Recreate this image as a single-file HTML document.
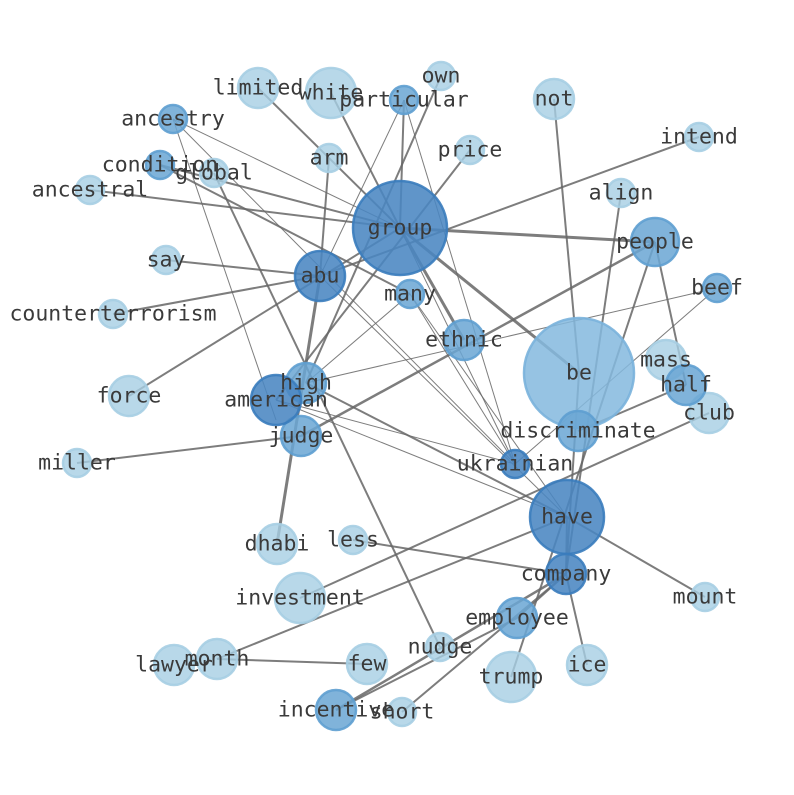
<!DOCTYPE html>
<html><head><meta charset="utf-8"><style>
html,body{margin:0;padding:0;background:#fff;}
svg text{font-family:"DejaVu Sans Mono","Liberation Mono",monospace;font-size:21.5px;fill:#3a3a3a;text-anchor:middle;dominant-baseline:central;}
</style></head><body>
<svg width="794" height="790" viewBox="0 0 794 790" xmlns="http://www.w3.org/2000/svg">
<g stroke="#666" stroke-opacity="0.85" fill="none">
<g stroke-width="2">
<line x1="258" y1="88" x2="400" y2="228"/>
<line x1="331" y1="93" x2="400" y2="228"/>
<line x1="404" y1="100" x2="400" y2="228"/>
<line x1="441" y1="76" x2="306" y2="383"/>
<line x1="329" y1="158" x2="320" y2="276"/>
<line x1="470" y1="150" x2="276" y2="400"/>
<line x1="699" y1="137" x2="320" y2="276"/>
<line x1="400" y1="228" x2="655" y2="242" stroke-width="3"/>
<line x1="400" y1="228" x2="579" y2="373" stroke-width="3"/>
<line x1="400" y1="228" x2="464" y2="340" stroke-width="3"/>
<line x1="160" y1="165" x2="400" y2="228"/>
<line x1="160" y1="165" x2="410" y2="294"/>
<line x1="214" y1="173" x2="440" y2="647"/>
<line x1="90" y1="190" x2="400" y2="228"/>
<line x1="166" y1="260" x2="320" y2="276"/>
<line x1="113" y1="314" x2="320" y2="276"/>
<line x1="129" y1="396" x2="400" y2="228"/>
<line x1="320" y1="276" x2="277" y2="544" stroke-width="3"/>
<line x1="655" y1="242" x2="301" y2="436" stroke-width="2.5"/>
<line x1="655" y1="242" x2="511" y2="677"/>
<line x1="655" y1="242" x2="686" y2="385"/>
<line x1="554" y1="99" x2="579" y2="373"/>
<line x1="621" y1="193" x2="566" y2="574"/>
<line x1="686" y1="385" x2="578" y2="431"/>
<line x1="709" y1="413" x2="300" y2="598"/>
<line x1="306" y1="383" x2="567" y2="517"/>
<line x1="301" y1="436" x2="77" y2="463"/>
<line x1="567" y1="517" x2="566" y2="574"/>
<line x1="567" y1="517" x2="217" y2="659"/>
<line x1="567" y1="517" x2="705" y2="597"/>
<line x1="353" y1="540" x2="566" y2="574"/>
<line x1="566" y1="574" x2="336" y2="710" stroke-width="2.5"/>
<line x1="566" y1="574" x2="517" y2="618"/>
<line x1="566" y1="574" x2="402" y2="712"/>
<line x1="566" y1="574" x2="587" y2="665"/>
<line x1="517" y1="618" x2="336" y2="710"/>
<line x1="217" y1="659" x2="367" y2="664"/>
<line x1="579" y1="373" x2="566" y2="574"/>
</g>
<g stroke-width="1">
<line x1="404" y1="100" x2="320" y2="276"/>
<line x1="404" y1="100" x2="515" y2="464"/>
<line x1="400" y1="228" x2="515" y2="464"/>
<line x1="173" y1="119" x2="400" y2="228"/>
<line x1="173" y1="119" x2="276" y2="420"/>
<line x1="173" y1="119" x2="515" y2="464"/>
<line x1="717" y1="288" x2="306" y2="383"/>
<line x1="717" y1="288" x2="515" y2="464"/>
<line x1="276" y1="400" x2="515" y2="464"/>
<line x1="276" y1="400" x2="567" y2="517"/>
<line x1="410" y1="294" x2="515" y2="464"/>
<line x1="410" y1="294" x2="567" y2="517"/>
<line x1="410" y1="294" x2="306" y2="383"/>
<line x1="320" y1="276" x2="567" y2="517"/>
</g>
</g>
<g stroke-width="2.5" stroke-opacity="0.9">
<g fill="#a6cee3" fill-opacity="0.8" stroke="#a6cee3">
<circle cx="258" cy="88" r="20"/><circle cx="331" cy="93" r="25"/><circle cx="441" cy="76" r="14"/>
<circle cx="554" cy="99" r="20"/><circle cx="699" cy="137" r="14"/><circle cx="470" cy="150" r="14"/>
<circle cx="329" cy="158" r="14"/><circle cx="214" cy="173" r="14"/><circle cx="90" cy="190" r="14"/>
<circle cx="621" cy="193" r="14"/><circle cx="166" cy="260" r="14"/><circle cx="113" cy="314" r="14"/>
<circle cx="129" cy="396" r="20"/><circle cx="666" cy="360" r="20"/><circle cx="709" cy="413" r="20"/>
<circle cx="77" cy="463" r="14"/><circle cx="277" cy="544" r="20"/><circle cx="353" cy="540" r="14"/>
<circle cx="300" cy="598" r="25"/><circle cx="705" cy="597" r="14"/><circle cx="174" cy="665" r="20"/>
<circle cx="217" cy="659" r="20"/><circle cx="367" cy="664" r="20"/><circle cx="440" cy="647" r="14"/>
<circle cx="511" cy="677" r="25"/><circle cx="587" cy="665" r="20"/><circle cx="402" cy="712" r="14"/>
</g>
<circle cx="579" cy="373" r="55" fill="#84b9de" fill-opacity="0.85" stroke="#7ab3db"/>
<g fill="#6aa6d4" fill-opacity="0.85" stroke="#5e9fd0">
<circle cx="655" cy="242" r="24"/><circle cx="464" cy="340" r="20"/><circle cx="578" cy="431" r="20"/>
<circle cx="517" cy="618" r="20"/><circle cx="410" cy="294" r="14"/><circle cx="404" cy="100" r="14"/>
<circle cx="173" cy="119" r="14"/><circle cx="160" cy="165" r="14"/><circle cx="717" cy="288" r="14"/>
<circle cx="686" cy="385" r="20"/><circle cx="336" cy="710" r="20"/><circle cx="301" cy="436" r="20"/>
<circle cx="306" cy="383" r="20"/>
</g>
<g fill="#4a86c2" fill-opacity="0.88" stroke="#3a7cbd">
<circle cx="400" cy="228" r="47"/><circle cx="567" cy="517" r="37"/><circle cx="320" cy="276" r="25"/>
<circle cx="276" cy="400" r="25"/><circle cx="566" cy="574" r="20"/><circle cx="515" cy="464" r="14"/>
</g>
</g>
<g>
<text x="258" y="88">limited</text><text x="331" y="93">white</text><text x="441" y="76">own</text>
<text x="404" y="100">particular</text><text x="554" y="99">not</text><text x="699" y="137">intend</text>
<text x="173" y="119">ancestry</text><text x="470" y="150">price</text><text x="329" y="158">arm</text>
<text x="160" y="165">condition</text><text x="214" y="173">global</text><text x="90" y="190">ancestral</text>
<text x="621" y="193">align</text><text x="400" y="228">group</text><text x="655" y="242">people</text>
<text x="166" y="260">say</text><text x="320" y="276">abu</text><text x="717" y="288">beef</text>
<text x="410" y="294">many</text><text x="113" y="314">counterterrorism</text><text x="464" y="340">ethnic</text>
<text x="666" y="360">mass</text><text x="579" y="373">be</text><text x="306" y="383">high</text>
<text x="686" y="385">half</text><text x="129" y="396">force</text><text x="276" y="400">american</text>
<text x="709" y="413">club</text><text x="578" y="431">discriminate</text><text x="301" y="436">judge</text>
<text x="77" y="463">miller</text><text x="515" y="464">ukrainian</text><text x="567" y="517">have</text>
<text x="277" y="544">dhabi</text><text x="353" y="540">less</text><text x="566" y="574">company</text>
<text x="300" y="598">investment</text><text x="705" y="597">mount</text><text x="517" y="618">employee</text>
<text x="440" y="647">nudge</text><text x="217" y="659">month</text><text x="174" y="665">lawyer</text>
<text x="367" y="664">few</text><text x="587" y="665">ice</text><text x="511" y="677">trump</text>
<text x="336" y="710">incentive</text><text x="402" y="712">short</text>
</g>
</svg>
</body></html>
